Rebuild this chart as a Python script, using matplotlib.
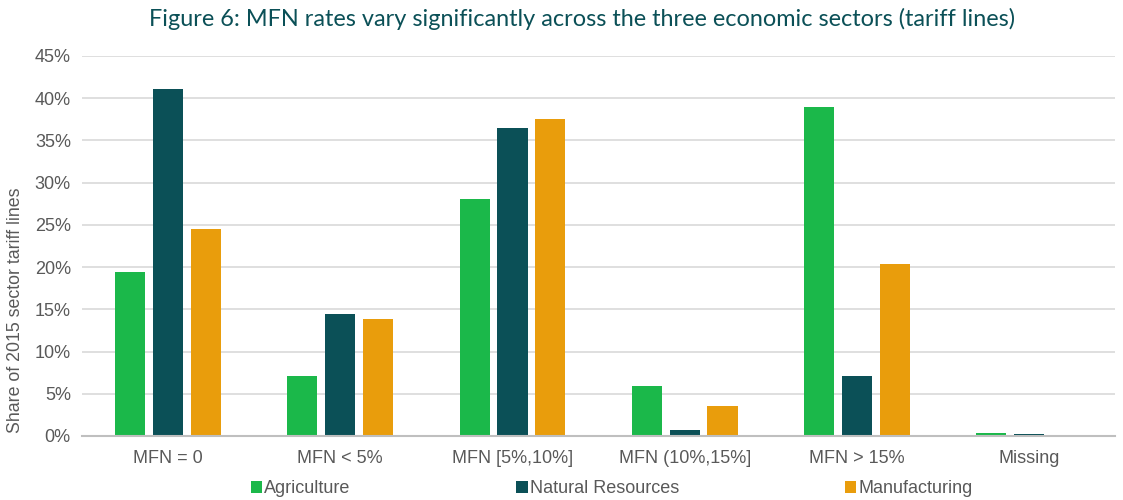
import numpy as np
import matplotlib.pyplot as plt
from matplotlib.ticker import PercentFormatter

categories = ["MFN = 0", "MFN < 5%", "MFN [5%,10%]", "MFN (10%,15%]", "MFN > 15%", "Missing"]
agriculture = [19.4, 7.1, 28.1, 5.9, 39.0, 0.35]
natural_resources = [41.1, 14.4, 36.5, 0.7, 7.1, 0.2]
manufacturing = [24.5, 13.9, 37.5, 3.55, 20.4, 0.0]

series = [
    ("Agriculture", agriculture, "#1BB84A"),
    ("Natural Resources", natural_resources, "#0B5057"),
    ("Manufacturing", manufacturing, "#E99D0C"),
]

plt.rcParams['font.family'] = ['Liberation Sans', 'DejaVu Sans']

fig = plt.figure(figsize=(11.23, 5), dpi=100)
ax = fig.add_axes([0.073, 0.128, 0.92, 0.76])

x = np.arange(len(categories))
width = 0.175
offsets = [-0.22, 0.0, 0.22]
for (name, vals, color), off in zip(series, offsets):
    ax.bar(x + off, vals, width, color=color, label=name, zorder=3)

ax.set_xlim(-0.5, len(categories) - 0.5)
ax.set_ylim(0, 45)
ax.set_yticks(np.arange(0, 46, 5))
ax.yaxis.set_major_formatter(PercentFormatter(decimals=0))
ax.set_xticks(x)
ax.set_xticklabels(categories)
ax.tick_params(axis='both', length=0, labelsize=13, colors="#595959", pad=8)
ax.tick_params(axis='x', pad=10)

ax.grid(axis='y', color="#D9D9D9", linewidth=1.2, zorder=0)
for s in ["top", "right", "left"]:
    ax.spines[s].set_visible(False)
ax.spines["bottom"].set_color("#BFBFBF")
ax.spines["bottom"].set_linewidth(1.5)
ax.spines["bottom"].set_zorder(4)

ax.set_ylabel("Share of 2015 sector tariff lines", fontsize=12.8, color="#595959")
ax.yaxis.set_label_coords(-0.056, 0.33)

fig.suptitle("Figure 6: MFN rates vary significantly across the three economic sectors (tariff lines)",
             x=0.518, y=0.985, fontsize=16.9, color="#0B5057",
             family=['Lato', 'DejaVu Sans'])

fig.legend(loc="lower left", bbox_to_anchor=(248 / 1123, 0.0, (975 - 248) / 1123, 0.05),
           mode="expand", ncol=3, frameon=False, fontsize=13,
           handlelength=0.65, handleheight=0.65, handletextpad=0.1,
           borderpad=0, borderaxespad=0.15, labelcolor="#595959")

fig.savefig("out.png", dpi=100)
